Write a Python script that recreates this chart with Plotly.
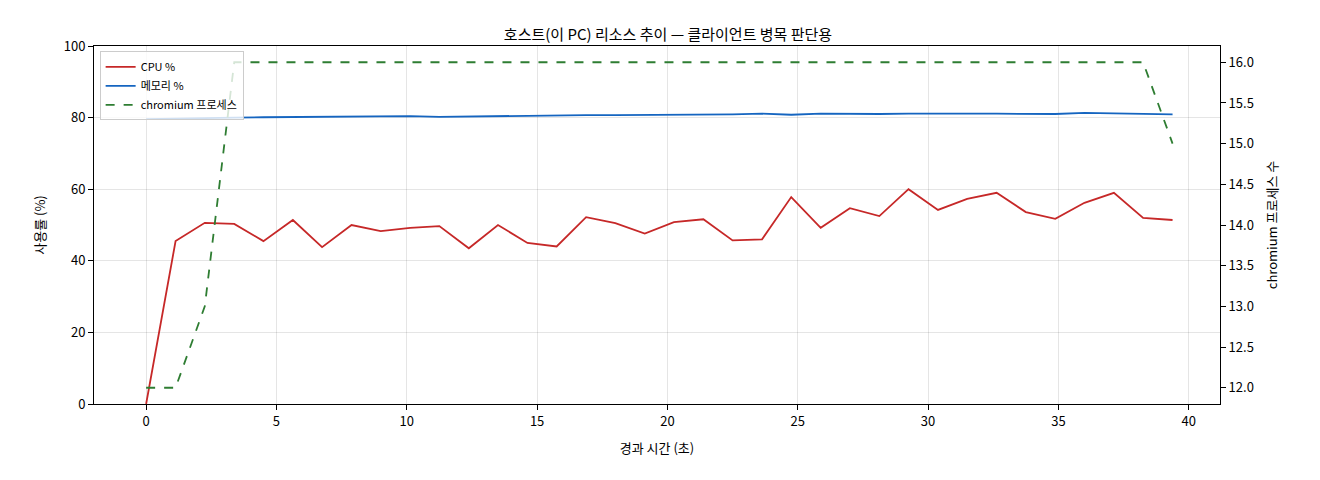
import plotly.graph_objects as go

# elapsed time (s)
t = [0.0, 1.13, 2.25, 3.38, 4.5, 5.63, 6.75, 7.88, 9.0, 10.13, 11.25, 12.38,
     13.5, 14.63, 15.75, 16.88, 18.0, 19.13, 20.25, 21.38, 22.5, 23.63, 24.75,
     25.88, 27.0, 28.13, 29.25, 30.38, 31.5, 32.63, 33.75, 34.88, 36.0, 37.13,
     38.25, 39.38]
cpu = [0, 45.5, 50.6, 50.3, 45.5, 51.4, 43.8, 50.0, 48.3, 49.2, 49.7, 43.5,
       50.0, 45.0, 44.0, 52.2, 50.5, 47.6, 50.8, 51.6, 45.7, 46.0, 57.8, 49.2,
       54.7, 52.5, 60.0, 54.2, 57.3, 59.0, 53.6, 51.7, 56.2, 59.0, 52.0, 51.4]
mem = [79.6, 79.8, 79.9, 80.0, 80.1, 80.2, 80.3, 80.4, 80.5, 80.4, 80.2, 80.3,
       80.5, 80.7, 80.7, 80.7, 80.7, 80.7, 80.8, 80.8, 80.9, 81.1, 80.8, 81.1,
       81.0, 81.0, 81.1, 81.0, 81.1, 81.1, 81.0, 81.0, 81.3, 81.1, 81.0, 80.9]
procs = [12, 12, 13] + [16] * 32 + [15]

fnt = "Noto Sans CJK KR"
fig = go.Figure()
fig.add_trace(go.Scatter(x=t, y=cpu, name="CPU %", mode="lines",
                         line=dict(color="#c62828", width=1.8)))
fig.add_trace(go.Scatter(x=t, y=mem, name="메모리 %", mode="lines",
                         line=dict(color="#1565c0", width=1.8)))
fig.add_trace(go.Scatter(x=t, y=procs, name="chromium 프로세스", mode="lines",
                         yaxis="y2", line=dict(color="#2e7d32", width=1.8, dash="dash")))

ax = dict(showline=True, linecolor="black", mirror=True, ticks="outside",
          tickcolor="black", tickfont=dict(size=13, color="black"),
          gridcolor="rgba(0,0,0,0.1)", zeroline=False)
fig.update_layout(
    width=1320, height=480, plot_bgcolor="white", paper_bgcolor="white",
    font=dict(family=fnt, color="black"),
    margin=dict(l=86, r=108, t=38, b=84),
    title=dict(text="호스트(이 PC) 리소스 추이 — 클라이언트 병목 판단용", x=0.5, y=0.955,
               font=dict(size=15)),
    xaxis=dict(ax, range=[-2, 41.2], tickvals=[0, 5, 10, 15, 20, 25, 30, 35, 40],
               title=dict(text="경과 시간 (초)", font=dict(size=13))),
    yaxis=dict(ax, range=[0, 100], dtick=20,
               title=dict(text="사용률 (%)", font=dict(size=13))),
    yaxis2=dict(ax, overlaying="y", side="right", range=[11.8, 16.2], dtick=0.5,
                tickformat=".1f", showgrid=False,
                title=dict(text="chromium 프로세스 수", font=dict(size=13))),
    legend=dict(x=0.005, y=0.985, xanchor="left", yanchor="top",
                bgcolor="rgba(255,255,255,0.8)", bordercolor="#ccc", borderwidth=1,
                font=dict(size=11)),
)
fig.write_html("out.html")
